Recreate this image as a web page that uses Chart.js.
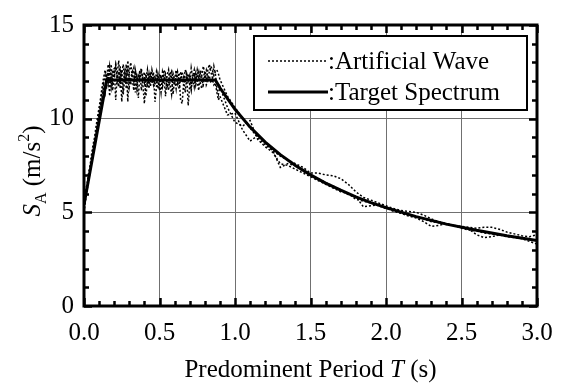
<!DOCTYPE html>
<html>
<head>
<meta charset="utf-8">
<script src="https://cdn.jsdelivr.net/npm/chart.js@4.4.0/dist/chart.umd.min.js"></script>
<style>
  html, body { margin: 0; padding: 0; background: #fff; }
</style>
</head>
<body>
<canvas id="spectrum-chart" width="569" height="383"></canvas>
<script>
// sampling periods of the artificial wave spectra (s)
const wavePeriods = [
  0.00,0.01,0.02,0.03,0.04,0.05,0.06,0.07,0.08,0.09,
  0.10,0.11,0.12,0.13,0.14,0.15,0.16,0.17,0.18,0.19,
  0.20,0.21,0.22,0.23,0.24,0.25,0.26,0.27,0.28,0.29,
  0.30,0.31,0.32,0.33,0.34,0.35,0.36,0.37,0.38,0.39,
  0.40,0.41,0.42,0.43,0.44,0.45,0.46,0.47,0.48,0.49,
  0.50,0.51,0.52,0.53,0.54,0.55,0.56,0.57,0.58,0.59,
  0.60,0.61,0.62,0.63,0.64,0.65,0.66,0.67,0.68,0.69,
  0.70,0.71,0.72,0.73,0.74,0.75,0.76,0.77,0.78,0.79,
  0.80,0.81,0.82,0.83,0.84,0.85,0.86,0.87,0.88,0.89,
  0.90,
  0.95,1.00,1.05,1.10,1.15,1.20,1.25,1.30,1.35,1.40,
  1.45,1.50,1.55,1.60,1.65,1.70,1.75,1.80,1.85,1.90,
  1.95,2.00,2.05,2.10,2.15,2.20,2.25,2.30,2.35,2.40,
  2.45,2.50,2.55,2.60,2.65,2.70,2.75,2.80,2.85,2.90,
  2.95,3.00
];

// S_A of three artificial waves (m/s2)
const wave1 = [
  5.3,5.9,6.3,6.9,7.3,7.9,8.4,8.9,9.3,9.9,
  10.4,10.9,11.5,11.9,12.3,11.6,12.6,11.2,12.9,11.8,
  12.7,11.0,12.4,13.1,11.9,12.6,11.3,12.2,12.9,10.9,
  12.5,13.0,12.1,11.5,12.6,12.2,11.1,12.4,12.7,11.8,
  10.8,12.1,12.6,11.6,12.3,11.9,12.5,10.9,11.7,12.4,
  12.0,11.4,12.5,12.2,11.2,12.3,12.6,11.8,11.3,12.4,
  12.1,11.6,12.5,12.2,11.0,10.8,11.9,12.6,12.3,10.7,
  11.8,12.7,12.2,11.7,12.4,12.0,11.5,12.6,12.3,12.8,
  12.4,12.1,12.6,12.9,12.5,12.2,12.8,12.4,11.6,11.3,
  11.7,
  10.6,9.8,9.6,9.9,8.9,8.5,8.2,7.6,7.5,7.3,
  7.1,6.9,6.7,6.5,6.3,6.1,6.0,5.7,5.6,5.5,
  5.35,5.2,5.1,4.95,4.85,4.75,4.65,4.5,4.45,4.35,
  4.3,4.15,4.05,4.0,3.9,3.85,3.8,3.7,3.65,3.6,
  3.45,3.3
];
const wave2 = [
  5.0,5.6,6.2,6.6,7.2,7.7,8.2,8.8,9.2,9.8,
  10.2,10.8,11.2,11.8,11.4,12.4,11.9,12.8,12.2,11.5,
  12.5,12.9,12.3,11.7,12.8,10.9,12.0,12.5,11.6,13.1,
  12.3,11.8,12.4,12.7,11.4,12.3,12.0,12.6,11.5,12.2,
  12.5,11.2,12.0,12.4,11.7,12.6,12.2,11.8,12.5,12.1,
  11.5,12.3,11.9,12.6,12.2,11.6,12.0,12.5,12.2,11.3,
  12.1,12.6,11.9,12.3,12.5,11.9,12.2,11.4,12.1,12.4,
  11.9,11.5,12.3,12.6,11.8,12.2,12.5,11.9,11.6,12.2,
  12.5,11.8,12.0,12.3,11.9,12.1,11.8,11.9,11.4,11.0,
  11.2,
  10.2,10.3,9.4,8.8,9.1,8.7,8.3,7.4,7.6,7.5,
  7.2,7.0,6.8,6.6,6.4,6.2,5.95,5.85,5.3,5.35,
  5.4,5.25,5.05,4.95,4.8,4.7,4.5,4.25,4.3,4.4,
  4.3,4.2,4.1,3.8,3.65,3.7,3.8,3.75,3.7,3.6,
  3.55,3.5
];
const wave3 = [
  5.5,6.1,6.5,7.1,7.5,8.1,8.6,9.0,9.6,10.1,
  10.6,11.1,11.7,12.2,12.6,12.1,12.9,12.3,11.7,12.6,
  12.2,12.8,12.0,12.5,11.6,12.4,12.9,11.9,12.3,12.6,
  11.7,12.2,12.5,12.0,12.4,11.6,12.3,12.1,12.5,12.2,
  11.9,12.4,11.7,12.2,12.5,12.1,11.8,12.3,12.0,11.6,
  12.4,12.2,11.7,12.1,12.4,12.0,11.5,12.2,12.5,12.1,
  11.8,12.3,12.0,11.6,12.2,12.5,12.1,11.9,12.4,12.0,
  12.3,11.7,12.1,12.4,12.0,12.6,12.2,12.4,12.0,11.8,
  12.3,12.6,12.2,12.5,12.8,12.6,12.3,12.5,12.6,12.4,
  12.1,
  11.2,10.6,10.0,9.5,9.0,8.6,8.3,8.0,7.8,7.6,
  7.4,7.1,7.1,7.0,6.95,6.8,6.5,6.1,5.8,5.65,
  5.5,5.35,5.2,5.1,5.05,5.0,4.85,4.65,4.5,4.4,
  4.3,4.25,4.2,4.15,4.2,4.2,4.1,3.95,3.85,3.75,
  3.7,3.8
];

// target design spectrum
const targetPeriods = [0, 0.15, 0.87, 0.9, 1.0, 1.1, 1.2, 1.3, 1.4, 1.5, 1.6, 1.7, 1.8, 1.9, 2.0, 2.2, 2.4, 2.6, 2.8, 3.0];
const targetValues  = [5.4, 12.07, 12.07, 11.65, 10.5, 9.55, 8.75, 8.08, 7.5, 7.0, 6.56, 6.18, 5.83, 5.52, 5.25, 4.77, 4.37, 4.04, 3.75, 3.5];

// tick labels
const xTickValues = [0, 0.5, 1.0, 1.5, 2.0, 2.5, 3.0];
const yTickValues = [0, 5, 10, 15];

const legendLabels = [':Artificial Wave', ':Target Spectrum'];

const FONT = '"Liberation Serif", serif';

function toPoints(xs, ys) {
  return xs.map((x, i) => ({ x: x, y: ys[i] }));
}

const waveStyle = {
  borderColor: '#000',
  borderWidth: 1.5,
  borderDash: [2, 2],
  pointRadius: 0,
  tension: 0,
  fill: false
};

// frame with inward major and minor ticks on all four sides
const frameTicks = {
  id: 'frameTicks',
  afterDatasetsDraw(chart) {
    const { ctx, chartArea: a, scales: { x, y } } = chart;
    ctx.save();
    ctx.strokeStyle = '#000';
    ctx.lineWidth = 2.5;
    ctx.beginPath();
    for (let i = 0; i <= 30; i++) {
      const px = Math.round(x.getPixelForValue(i / 10)) + 0.5;
      const len = i % 5 === 0 ? 8 : 5;
      ctx.moveTo(px, a.bottom); ctx.lineTo(px, a.bottom - len);
      ctx.moveTo(px, a.top); ctx.lineTo(px, a.top + len);
    }
    for (let j = 0; j <= 15; j++) {
      const py = Math.round(y.getPixelForValue(j)) + 0.5;
      const len = j % 5 === 0 ? 8 : 5;
      ctx.moveTo(a.left, py); ctx.lineTo(a.left + len, py);
      ctx.moveTo(a.right, py); ctx.lineTo(a.right - len, py);
    }
    ctx.stroke();
    ctx.lineWidth = 3;
    ctx.strokeRect(a.left, a.top, a.right - a.left, a.bottom - a.top);
    ctx.restore();
  }
};

// boxed legend in the upper right corner
const boxLegend = {
  id: 'boxLegend',
  afterDraw(chart) {
    const { ctx, chartArea: a } = chart;
    const left = a.right - 283, top = a.top + 11, w = 273, h = 74;
    ctx.save();
    ctx.fillStyle = '#fff';
    ctx.fillRect(left, top, w, h);
    ctx.strokeStyle = '#000';
    ctx.lineWidth = 2;
    ctx.strokeRect(left, top, w, h);

    ctx.beginPath();
    ctx.lineWidth = 1.5;
    ctx.setLineDash([2, 2]);
    ctx.moveTo(left + 14, top + 25); ctx.lineTo(left + 74, top + 25);
    ctx.stroke();
    ctx.setLineDash([]);
    ctx.beginPath();
    ctx.lineWidth = 3;
    ctx.moveTo(left + 14, top + 56); ctx.lineTo(left + 74, top + 56);
    ctx.stroke();

    ctx.fillStyle = '#000';
    ctx.font = '25px ' + FONT;
    ctx.textBaseline = 'alphabetic';
    ctx.fillText(legendLabels[0], left + 74, top + 33);
    ctx.fillText(legendLabels[1], left + 74, top + 64);
    ctx.restore();
  }
};

// axis titles with italic symbols, subscript and superscript
const axisTitles = {
  id: 'axisTitles',
  afterDraw(chart) {
    const { ctx, chartArea: a } = chart;
    ctx.save();
    ctx.fillStyle = '#000';
    ctx.textBaseline = 'alphabetic';

    const parts = [
      { t: 'Predominent Period ', f: '25px ' + FONT },
      { t: 'T', f: 'italic 25px ' + FONT },
      { t: ' (s)', f: '25px ' + FONT }
    ];
    let total = 0;
    parts.forEach(p => { ctx.font = p.f; p.w = ctx.measureText(p.t).width; total += p.w; });
    let cx = (a.left + a.right) / 2 - total / 2;
    parts.forEach(p => { ctx.font = p.f; ctx.fillText(p.t, cx, 377); cx += p.w; });

    const yParts = [
      { t: 'S', f: 'italic 25px ' + FONT, dy: 0 },
      { t: 'A', f: '16px ' + FONT, dy: 6 },
      { t: ' (m/s', f: '25px ' + FONT, dy: 0 },
      { t: '2', f: '16px ' + FONT, dy: -11 },
      { t: ')', f: '25px ' + FONT, dy: 0 }
    ];
    total = 0;
    yParts.forEach(p => { ctx.font = p.f; p.w = ctx.measureText(p.t).width; total += p.w; });
    ctx.translate(40, 171);
    ctx.rotate(-Math.PI / 2);
    cx = -total / 2;
    yParts.forEach(p => { ctx.font = p.f; ctx.fillText(p.t, cx, p.dy); cx += p.w; });
    ctx.restore();
  }
};

Chart.defaults.font.family = FONT;
const chartCtx = document.getElementById('spectrum-chart').getContext('2d');
new Chart(chartCtx, {
  type: 'line',
  data: {
    datasets: [
      {
        label: 'Target Spectrum',
        data: toPoints(targetPeriods, targetValues),
        borderColor: '#000',
        borderWidth: 3,
        pointRadius: 0,
        tension: 0,
        fill: false
      },
      Object.assign({ label: 'Artificial Wave', data: toPoints(wavePeriods, wave1) }, waveStyle),
      Object.assign({ label: 'Artificial Wave 2', data: toPoints(wavePeriods, wave2) }, waveStyle),
      Object.assign({ label: 'Artificial Wave 3', data: toPoints(wavePeriods, wave3) }, waveStyle)
    ]
  },
  options: {
    responsive: false,
    animation: false,
    devicePixelRatio: 1,
    layout: { padding: { top: 12, right: 32, left: 0, bottom: 0 } },
    plugins: {
      legend: { display: false },
      tooltip: { enabled: false }
    },
    scales: {
      x: {
        type: 'linear',
        min: 0,
        max: 3,
        afterBuildTicks: scale => { scale.ticks = xTickValues.map(v => ({ value: v })); },
        afterFit: scale => { scale.height = 77; },
        border: { display: false },
        grid: { color: '#707070', lineWidth: 1, drawTicks: false },
        ticks: {
          color: '#000',
          padding: 12,
          maxRotation: 0,
          font: { family: FONT, size: 25 },
          callback: v => Number(v).toFixed(1)
        }
      },
      y: {
        min: 0,
        max: 15,
        afterBuildTicks: scale => { scale.ticks = yTickValues.map(v => ({ value: v })); },
        afterFit: scale => { scale.width = 84; },
        border: { display: false },
        grid: { color: '#707070', lineWidth: 1, drawTicks: false },
        ticks: {
          color: '#000',
          padding: 10,
          font: { family: FONT, size: 25 },
          callback: v => String(v)
        }
      }
    }
  },
  plugins: [frameTicks, boxLegend, axisTitles]
});
</script>
</body>
</html>
